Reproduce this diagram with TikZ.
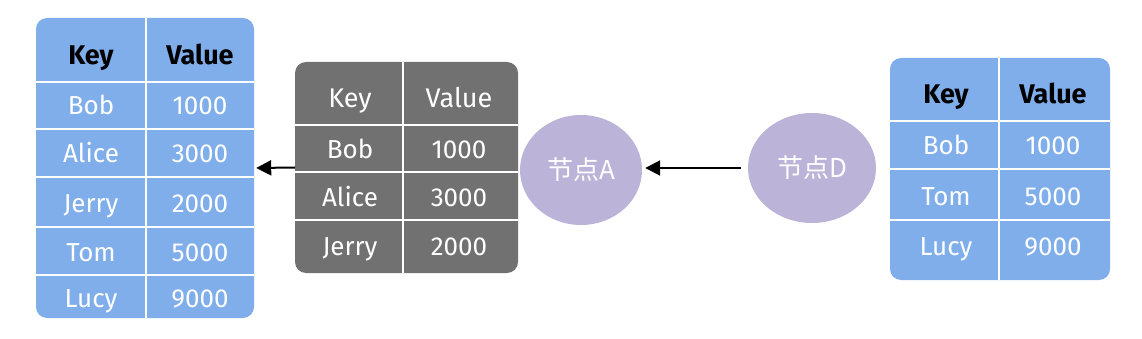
\documentclass[tikz,border=0pt]{standalone}
\usepackage{fontspec}
\setmainfont{Fira Sans}
\newfontfamily\cjk{Noto Sans CJK SC}
\usetikzlibrary{arrows.meta,positioning,shapes.geometric}

\definecolor{cellblue}{HTML}{7FAEEA}
\definecolor{cellgray}{HTML}{717171}
\definecolor{peerpurple}{HTML}{BCB3D8}

\begin{document}
\begin{tikzpicture}[
      x=1pt, y=-1pt,
      tab/.style={rectangle, rounded corners=11pt, inner sep=0pt},
      sep/.style={white, line width=2.4pt},
      txt/.style={inner sep=0pt, text height=18pt, text depth=0pt},
      hd/.style={txt, font=\fontsize{27}{32}\selectfont\bfseries},
      cell/.style={txt, text=white, font=\fontsize{26}{31}\selectfont},
      peer/.style={ellipse, fill=peerpurple, inner sep=0pt, text=white,
      font=\cjk\fontsize{26}{31}\selectfont},
      link/.style={-{Triangle[length=15pt,width=15pt]}, line width=2pt},
      >=Stealth]
    \useasboundingbox (0,0) rectangle (1142,339);
    % left table
    \node[tab, fill=cellblue, minimum width=218, minimum height=300] (tabL) at (145,168) {};
    \draw[sep] (146,18) -- (146,318);
    \foreach \y in {82,129,177,227,275} \draw[sep] (36,\y) -- (254,\y);
    \node[hd] (L-key) at (91,56) {Key};
    \node[hd] (L-val) at (200,56) {Value};
    \foreach \y/\k/\v [count=\i] in {106/Bob/1000, 154/Alice/3000, 203/Jerry/2000,
      252/Tom/5000, 298/Lucy/9000} {
      \node[cell] (L-k\i) at (91,\y) {\k};
      \node[cell] (L-v\i) at (200,\y) {\v};
    }
    % middle table
    \node[tab, fill=cellgray, minimum width=223, minimum height=211] (tabM) at (406.5,167.5) {};
    \draw[sep] (403,62) -- (403,273);
    \foreach \y in {125,172,220} \draw[sep] (295,\y) -- (518,\y);
    \node[cell, font=\fontsize{27}{32}\selectfont] (M-key) at (350,99) {Key};
    \node[cell, font=\fontsize{27}{32}\selectfont] (M-val) at (459,99) {Value};
    \foreach \y/\k/\v [count=\i] in {150/Bob/1000, 198/Alice/3000, 246/Jerry/2000} {
      \node[cell] (M-k\i) at (350,\y) {\k};
      \node[cell] (M-v\i) at (459,\y) {\v};
    }
    % right table
    \node[tab, fill=cellblue, minimum width=220, minimum height=222] (tabR) at (1000,169) {};
    \draw[sep] (999,58) -- (999,280);
    \foreach \y in {121,169,220} \draw[sep] (890,\y) -- (1110,\y);
    \node[hd] (R-key) at (946,95) {Key};
    \node[hd] (R-val) at (1053,95) {Value};
    \foreach \y/\k/\v [count=\i] in {146/Bob/1000, 196/Tom/5000, 246/Lucy/9000} {
      \node[cell] (R-k\i) at (946,\y) {\k};
      \node[cell] (R-v\i) at (1053,\y) {\v};
    }
    % peers
    \node[peer, minimum width=122, minimum height=110] (nodeA) at (581,170) {节点A};
    \node[peer, minimum width=128, minimum height=110] (nodeD) at (812,168) {节点D};
    \draw[link] (tabM.west) -- ([xshift=2pt]tabL.east);
    \draw[link] ([xshift=-7pt]nodeD.west) -- ([xshift=3pt]nodeD.west -| nodeA.east);
  \end{tikzpicture}
\end{document}
